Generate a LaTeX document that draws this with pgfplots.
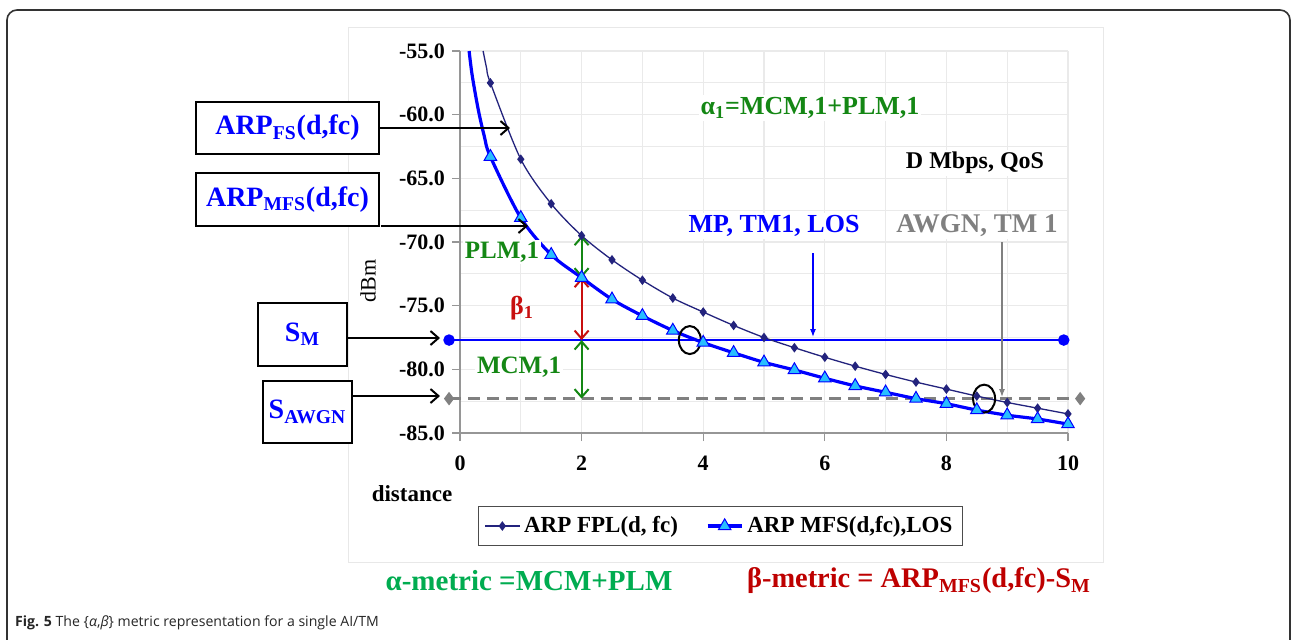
\documentclass[border=0pt]{standalone}
\usepackage{pgfplots}
\pgfplotsset{compat=1.18}
\usepackage{fontspec}
\setmainfont{Liberation Serif}
\newfontfamily\capfont{Open Sans}
\usetikzlibrary{arrows.meta}

\definecolor{fplnavy}{RGB}{35,35,125}
\definecolor{mfsblue}{RGB}{0,0,255}
\definecolor{tricyan}{RGB}{40,190,255}
\definecolor{dkgreen}{RGB}{20,135,20}
\definecolor{brgreen}{RGB}{0,172,80}
\definecolor{dkred}{RGB}{200,15,15}
\definecolor{capred}{RGB}{190,0,0}
\definecolor{awgngray}{RGB}{128,128,128}
\definecolor{gridgray}{RGB}{234,234,234}
\definecolor{axisgray}{RGB}{150,150,150}

\tikzset{
  barb/.style={line width=1pt,{Straight Barb[length=4pt,width=7pt]}-{Straight Barb[length=4pt,width=7pt]}},
  onearrow/.style={line width=1pt,-{Straight Barb[length=4pt,width=7pt]}},
  lbl/.style={font=\bfseries\fontsize{14}{16}\selectfont, text=mfsblue, draw=black, line width=0.6pt, fill=white, inner sep=0pt},
}

\begin{document}
\begin{tikzpicture}
\path[use as bounding box] (0,0) rectangle (645.5pt,-319.5pt);
\clip (0,0) rectangle (645.5pt,-319.5pt);
\begin{scope}[x=0.5pt,y=-0.5pt]
  \fill[white] (0,0) rectangle (1291,639);
  \draw[black!80, line width=0.8pt, rounded corners=5pt] (7,700) -- (7,10) -- (1290,10) -- (1290,700);
  \draw[black!9, line width=0.4pt] (348,27) rectangle (1103,562);
\end{scope}

\begin{axis}[
  at={(230pt,-216.5pt)}, anchor=south west,
  scale only axis, width=304pt, height=191pt,
  xmin=0, xmax=10, ymin=-85, ymax=-55,
  clip=false,
  axis lines*=left,
  axis line style={axisgray, line width=0.6pt},
  xtick={0,2,...,10}, ytick={-85,-80,...,-55},
  minor xtick={1,3,5,7,9},
  minor ytick={-82.5,-77.5,-72.5,-67.5,-62.5,-57.5},
  grid=both,
  major grid style={gridgray, line width=0.6pt},
  minor grid style={gridgray, line width=0.6pt},
  tick align=outside,
  major tick length=4pt, minor tick length=0pt,
  tick style={axisgray, line width=0.6pt},
  /pgf/number format/assume math mode=true,
  yticklabel style={/pgf/number format/fixed, /pgf/number format/fixed zerofill, /pgf/number format/precision=1},
  tick label style={font=\bfseries\fontsize{11}{12}\selectfont, text=black},
  xticklabel style={yshift=-4pt},
  legend style={at={(0.4285,-0.2435)}, anchor=center, draw=black!70, line width=0.5pt,
    font=\bfseries\fontsize{11.5}{13}\selectfont, legend columns=2, inner sep=3pt,
    /tikz/every even column/.append style={column sep=12pt}},
  legend cell align=left,
]
  % receiver sensitivity levels
  \addplot[awgngray, line width=1.2pt, dash pattern=on 6pt off 3.5pt, mark=diamond*, mark size=2.4pt, mark options={solid}, forget plot]
    coordinates {(-0.18,-82.3) (10.2,-82.3)};
  \addplot[mfsblue, line width=1.3pt, mark=*, mark size=2.2pt, forget plot]
    coordinates {(-0.18,-77.7) (9.93,-77.7)};

  % free-space received power
  \addplot[fplnavy, line width=0.65pt, smooth, mark=diamond*, mark size=1.9pt, mark phase=3, mark repeat=1]
    coordinates {
      (0.38,-55.0) (0.44,-56.4)
      (0.5,-57.5) (1,-63.5) (1.5,-67.0) (2,-69.5) (2.5,-71.4) (3,-73.0)
      (3.5,-74.4) (4,-75.5) (4.5,-76.55) (5,-77.5) (5.5,-78.3) (6,-79.05)
      (6.5,-79.75) (7,-80.4) (7.5,-81.0) (8,-81.55) (8.5,-82.1) (9,-82.6)
      (9.5,-83.05) (10,-83.5)};
  \addlegendentry{ARP FPL(d, fc)}

  % modified free-space received power, LOS
  \addplot[mfsblue, line width=1.6pt, smooth, mark=triangle*, mark size=3.6pt,
      mark options={fill=tricyan, draw=mfsblue, line width=0.5pt}, mark phase=5, mark repeat=1]
    coordinates {
      (0.15,-55.0) (0.2,-56.9) (0.3,-59.6) (0.4,-61.7)
      (0.5,-63.3) (1,-68.1) (1.5,-71.0) (2,-72.8) (2.5,-74.5) (3,-75.8)
      (3.5,-76.95) (4,-77.9) (4.5,-78.7) (5,-79.45) (5.5,-80.05) (6,-80.7)
      (6.5,-81.3) (7,-81.8) (7.5,-82.3) (8,-82.7) (8.5,-83.2) (9,-83.6)
      (9.5,-83.9) (10,-84.3)};
  \addlegendentry{ARP MFS(d,fc),LOS}

  % margins at d = 2
  \draw[barb, dkgreen] (axis cs:2,-69.5) -- (axis cs:2,-72.8);
  \draw[barb, dkred] (axis cs:2,-72.8) -- (axis cs:2,-77.7);
  \draw[barb, dkgreen] (axis cs:2,-77.7) -- (axis cs:2,-82.3);

  % crossing points
  \draw[black, line width=1pt] (axis cs:3.78,-77.7) ellipse [x radius=5.5pt, y radius=7pt];
  \draw[black, line width=1pt] (axis cs:8.62,-82.3) ellipse [x radius=5.5pt, y radius=7pt];
\end{axis}

\begin{scope}[x=0.5pt,y=-0.5pt]
  % axis titles
  \node[rotate=90, font=\fontsize{11}{12}\selectfont] at (368,281) {dBm};
  \node[font=\bfseries\fontsize{11.5}{12}\selectfont] at (412,494) {distance};

  % level boxes and pointers
  \node[lbl, minimum width=91.5pt, minimum height=26pt] at (287.5,128) {ARP\textsubscript{FS}(d,fc)};
  \node[lbl, minimum width=91.5pt, minimum height=26.5pt] at (287.5,199.5) {ARP\textsubscript{MFS}(d,fc)};
  \node[lbl, minimum width=44.5pt, minimum height=31.5pt] at (302.5,334.5) {S\textsubscript{M}};
  \node[lbl, minimum width=44.5pt, minimum height=31pt] at (307.5,412) {S\textsubscript{AWGN}};
  \draw[onearrow] (379,128) -- (510,128);
  \draw[onearrow] (381,226) -- (528,226);
  \draw[onearrow] (347,338) -- (440,338);
  \draw[onearrow] (352,396) -- (440,396);

  % in-plot annotations
  \node[fill=white, inner sep=1pt, text=dkgreen, font=\bfseries\fontsize{13}{14}\selectfont] at (810,108) {α\textsubscript{1}=MCM,1+PLM,1};
  \node[fill=white, inner sep=1pt, font=\bfseries\fontsize{12}{14}\selectfont] at (975,163) {D Mbps, QoS};
  \node[fill=white, inner sep=1pt, text=mfsblue, font=\bfseries\fontsize{13}{14}\selectfont] at (774,226) {MP, TM1, LOS};
  \node[fill=white, inner sep=1pt, text=awgngray, font=\bfseries\fontsize{13.5}{14}\selectfont] at (977,226) {AWGN, TM 1};
  \node[fill=white, inner sep=1pt, text=dkgreen, font=\bfseries\fontsize{12.5}{14}\selectfont] at (502,252) {PLM,1};
  \node[text=dkred, font=\bfseries\fontsize{13}{14}\selectfont] at (522,308) {β\textsubscript{1}};
  \node[fill=white, inner sep=1pt, text=dkgreen, font=\bfseries\fontsize{12.5}{14}\selectfont] at (519,367) {MCM,1};
  \draw[mfsblue, line width=0.6pt, -{Latex[length=4pt,width=3pt]}] (813,253) -- (813,337);
  \draw[awgngray, line width=0.6pt, -{Latex[length=4pt,width=3pt]}] (1002,242) -- (1002,397);

  % metric definitions
  \node[text=brgreen, font=\bfseries\fontsize{14.5}{16}\selectfont] at (529,581) {α-metric =MCM+PLM};
  \node[text=capred, font=\bfseries\fontsize{14.2}{16}\selectfont] at (919,581) {β-metric = ARP\textsubscript{MFS}(d,fc)-S\textsubscript{M}};

  % caption
  \node[anchor=west, text=black!85, font=\capfont\fontsize{7.05}{9}\selectfont] at (8,623)
    {\textbf{Fig. 5} The \{\textit{α},\textit{β}\} metric representation for a single AI/TM};
\end{scope}
\end{tikzpicture}
\end{document}
